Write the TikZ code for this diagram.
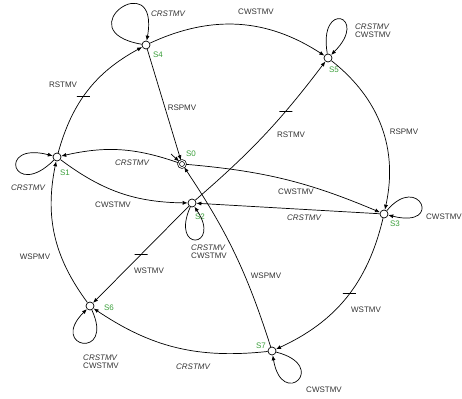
\documentclass[tikz,border=0pt]{standalone}
\usepackage{fontspec}
\setmainfont{Liberation Sans}
\usetikzlibrary{arrows.meta}
\definecolor{stgreen}{HTML}{3A9E3A}
\definecolor{lblgray}{HTML}{333333}
\tikzset{
  state/.style={circle,draw,fill=white,inner sep=0pt,minimum size=8pt,line width=0.7pt},
  trans/.style={-{Latex[length=5pt,width=4pt]},line width=0.7pt},
  sname/.style={text=stgreen,font=\fontsize{8}{9}\selectfont,inner sep=0pt},
  lbl/.style={text=lblgray,font=\fontsize{8}{9}\selectfont,inner sep=0pt},
  ilbl/.style={lbl,font=\fontsize{8}{9}\selectfont\itshape},
  duo/.style={lbl,align=left},
  tickmark/.style={draw,line width=1.2pt,inner sep=0pt,minimum width=13pt,minimum height=0pt}
}
\newcommand{\Duo}{{\itshape CRSTMV}\\[-1pt]CWSTMV}

\begin{document}
\begin{tikzpicture}[x=1pt,y=1pt]
\useasboundingbox (0,0) rectangle (462,-398);

% --- states ---------------------------------------------------------
\node[state,double,double distance=1pt,minimum size=7pt] (S0) at (182,-164) {};
\node[state] (S1) at (57,-157) {};
\node[state] (S2) at (192,-203) {};
\node[state] (S3) at (384,-214) {};
\node[state] (S4) at (146,-45) {};
\node[state] (S5) at (328,-58) {};
\node[state] (S6) at (90,-306) {};
\node[state] (S7) at (272,-351) {};

\node[sname] (nS0) at (191,-154) {S0};
\node[sname] (nS1) at (65,-173) {S1};
\node[sname] (nS2) at (200,-217) {S2};
\node[sname] (nS3) at (395,-224) {S3};
\node[sname] (nS4) at (158,-55) {S4};
\node[sname] (nS5) at (334,-70) {S5};
\node[sname] (nS6) at (109,-308) {S6};
\node[sname] (nS7) at (261,-346) {S7};

\coordinate (init) at (171,-154);
\draw[trans] (init) -- (S0);

% --- outer ring -----------------------------------------------------
\draw[trans] (S1) to[bend left=23] node[tickmark,pos=0.44] (t1) {} (S4);
\draw[trans] (S4) to[bend left=29] (S5);
\draw[trans] (S5) to[bend left=32] (S3);
\draw[trans] (S3) to[bend left=26] node[tickmark,pos=0.47] (t2) {} (S7);
\draw[trans] (S7) to[bend left=20] (S6);
\draw[trans] (S6) to[bend left=24] (S1);

% --- inner transitions ----------------------------------------------
\draw[trans] (S4) -- (S0);
\draw[trans] (S0) to[bend right=16] (S1);
\draw[trans] (S0) to[bend left=9] (S3);
\draw[trans] (S1) to[bend right=18] (S2);
\draw[trans] (S3) -- (S2);
\draw[trans] (S7) to[bend right=8] (S0);
\draw[trans] (S2) to[bend right=6] node[tickmark,pos=0.68] (t3) {} (S5);
\draw[trans] (S2) -- node[tickmark,pos=0.5] (t4) {} (S6);

% --- self loops -----------------------------------------------------
\draw[trans] (S4) .. controls +(-81,14) and +(14,81) .. (S4);
\draw[trans] (S5) .. controls +(-10,59) and +(42,42) .. (S5);
\draw[trans] (S1) .. controls +(-44,-44) and +(-61,16) .. (S1);
\draw[trans] (S2) .. controls +(-22,-50) and +(30,-45) .. (S2);
\draw[trans] (S3) .. controls +(35,42) and +(60,-15) .. (S3);
\draw[trans] (S6) .. controls +(25,-54) and +(-42,-42) .. (S6);
\draw[trans] (S7) .. controls +(58,-15) and +(10,-59) .. (S7);

% --- labels ---------------------------------------------------------
\node[lbl] (l1) at (63,-85) {RSTMV};
\node[lbl] (l2) at (182,-108) {RSPMV};
\node[lbl] (l3) at (256,-12) {CWSTMV};
\node[lbl] (l4) at (291,-135) {RSTMV};
\node[lbl] (l5) at (404,-132) {RSPMV};
\node[lbl] (l6) at (296,-192) {CWSTMV};
\node[ilbl] (l7) at (132,-163) {CRSTMV};
\node[lbl] (l8) at (113,-205) {CWSTMV};
\node[ilbl] (l9) at (304,-218) {CRSTMV};
\node[lbl] (l10) at (35,-257) {WSPMV};
\node[lbl] (l11) at (149,-271) {WSTMV};
\node[lbl] (l12) at (266,-276) {WSPMV};
\node[lbl] (l13) at (366,-310) {WSTMV};
\node[ilbl] (l14) at (193,-367) {CRSTMV};

\node[ilbl] (c4) at (168,-14) {CRSTMV};
\node[duo,anchor=west] (c5) at (355,-31) {\Duo};
\node[ilbl] (c1) at (28,-188) {CRSTMV};
\node[duo] (c2) at (209,-252) {\Duo};
\node[lbl,anchor=west] (c3) at (426,-217) {CWSTMV};
\node[duo] (c6) at (101,-362) {\Duo};
\node[lbl] (c7) at (324,-390) {CWSTMV};
\end{tikzpicture}
\end{document}
